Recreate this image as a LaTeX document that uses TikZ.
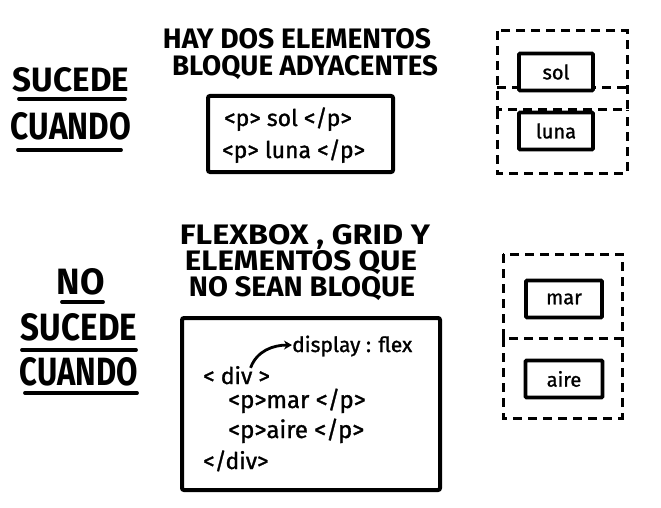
\documentclass[tikz,border=0pt]{standalone}
\usepackage{fontspec}
\setmainfont{Fira Sans}
\newfontfamily\codefont{Fira Sans}[FakeBold=1.2]
\usetikzlibrary{arrows.meta}
\newcommand{\fitcaps}[3]{\resizebox{#1pt}{#2pt}{\bfseries #3}}
\tikzset{
  head/.style={inner sep=0pt, anchor=base},
  ul/.style={line width=3.8pt, line cap=round},
  codebox/.style={draw, line width=4pt, rounded corners=2pt, inner sep=0pt},
  codeline/.style={inner sep=0pt, anchor=base west, font=\codefont\fontsize{23}{26}\selectfont},
  elbox/.style={draw, line width=3.6pt, rounded corners=1pt, inner sep=0pt, minimum width=74pt, minimum height=37pt, font=\codefont\fontsize{20}{22}\selectfont},
  margin/.style={draw, dash pattern=on 9pt off 6pt, line width=3pt},
  arr/.style={line width=2.8pt, -{Stealth[length=8pt,width=9pt]}}
}
\begin{document}
\begin{tikzpicture}[x=1pt,y=-1pt]
\useasboundingbox (0,0) rectangle (661,508);
% ---------- top row ----------
\node[head] (suc1) at (71,92) {\fitcaps{116}{24}{SUCEDE}};
\node[head] (cua1) at (71,140) {\fitcaps{120}{27}{CUANDO}};
\draw[ul] (19,99) -- (125,99);
\draw[ul] (18,150) -- (121,150);

\node[head] (t1a) at (297,49) {\fitcaps{268}{20}{HAY DOS ELEMENTOS}};
\node[head] (t1b) at (305,76) {\fitcaps{266}{20}{BLOQUE ADYACENTES}};

\node[codebox, minimum width=185pt, minimum height=76pt] (box1) at (300.5,134) {};
\node[codeline] (l1) at (224,126) {<p> sol </p>};
\node[codeline] (l2) at (222,158) {<p> luna </p>};

\draw[margin] (497,31) rectangle (627,110);
\draw[margin] (497,88) -- (627,88);
\draw[margin] (497,110) -- (497,173) -- (627,173) -- (627,110);
\node[elbox, fill=white] (sol) at (556,72) {sol};
\node[elbox, fill=white] (luna) at (556,131) {luna};

% ---------- bottom row ----------
\node[head] (no) at (81,294) {\fitcaps{48}{26}{NO}};
\node[head] (suc2) at (79,340) {\fitcaps{116}{27}{SUCEDE}};
\node[head] (cua2) at (79,385) {\fitcaps{118}{28}{CUANDO}};
\draw[ul] (62,302) -- (103,302);
\draw[ul] (22,350) -- (136,350);
\draw[ul] (25,393) -- (137,393);

\node[head] (t2a) at (305,244) {\fitcaps{250}{20}{FLEXBOX , GRID Y}};
\node[head] (t2b) at (301,270) {\fitcaps{232}{20}{ELEMENTOS QUE}};
\node[head] (t2c) at (302,296) {\fitcaps{226}{20}{NO SEAN BLOQUE}};

\node[codebox, minimum width=258pt, minimum height=172pt] (box2) at (311,404) {};
\node[codeline, font=\codefont\fontsize{21}{24}\selectfont] (disp) at (292,352) {display : flex};
\node[codeline] (div) at (203,384) {< div >};
\node[codeline, font=\codefont\fontsize{24}{26}\selectfont] (mar) at (228,408) {<p>mar </p>};
\node[codeline, font=\codefont\fontsize{24}{26}\selectfont] (aire) at (228,438) {<p>aire </p>};
\node[codeline] (cdiv) at (203,469) {</div>};
\draw[arr] ([xshift=14pt,yshift=-2pt]div.north) to[out=70,in=180] ([yshift=1pt]disp.west);

\draw[margin] (503,254) rectangle (622,338);
\draw[margin] (503,338) -- (503,418) -- (622,418) -- (622,338);
\node[elbox, minimum width=76pt, minimum height=37pt] (marb) at (564,299) {mar};
\node[elbox, minimum width=77pt, minimum height=37pt] (aireb) at (564,379) {aire};
\end{tikzpicture}
\end{document}
